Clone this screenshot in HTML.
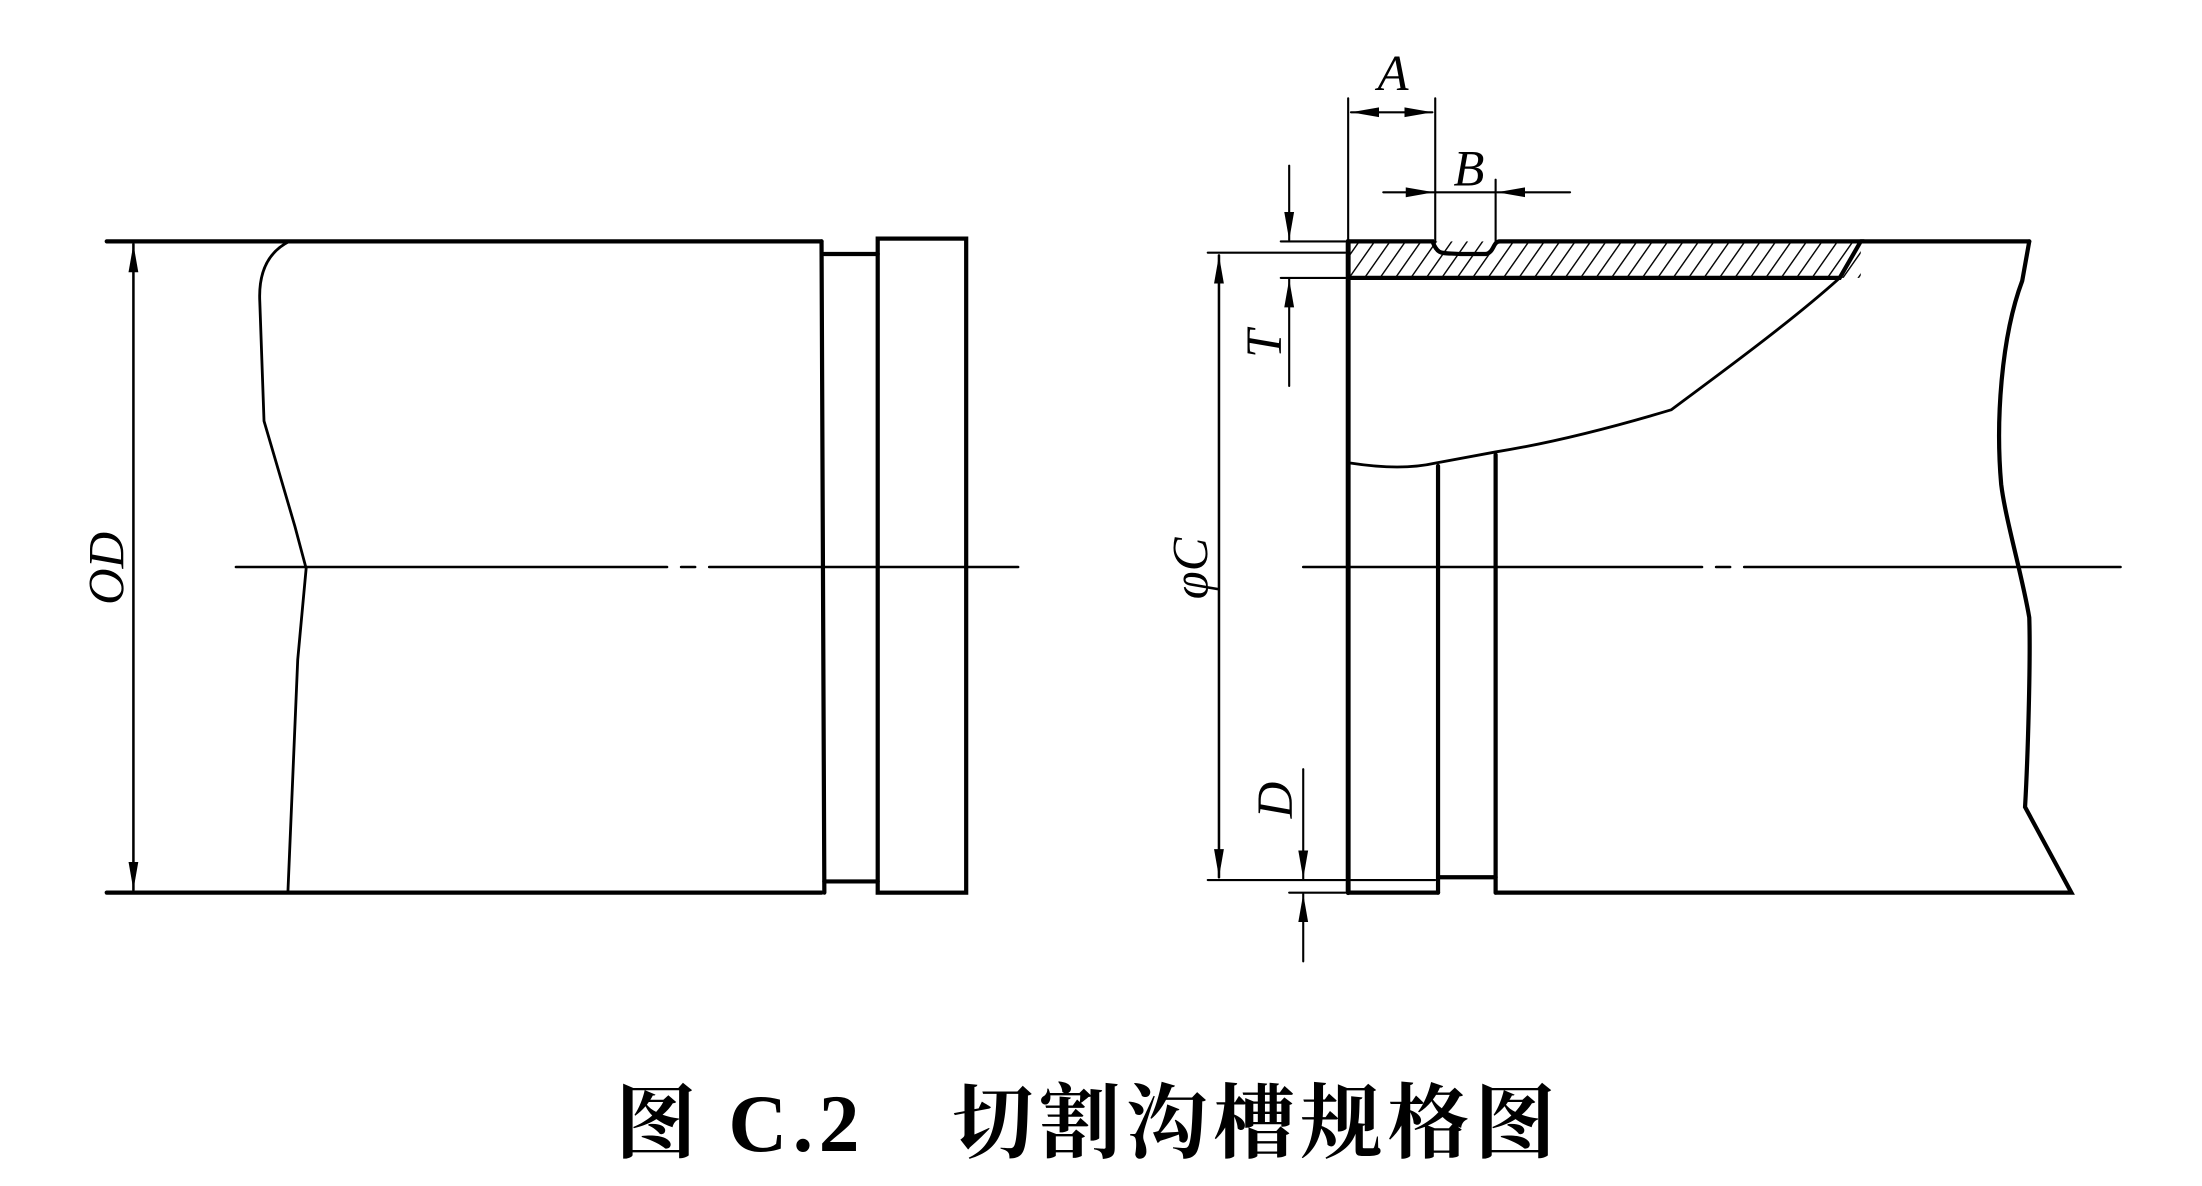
<!DOCTYPE html>
<html><head><meta charset="utf-8"><style>html,body{margin:0;padding:0;background:#fff;width:2202px;height:1186px;overflow:hidden}svg{display:block}</style></head><body>
<svg width="2202" height="1186" viewBox="0 0 1568 845" preserveAspectRatio="none" xmlns="http://www.w3.org/2000/svg">
<defs>
<marker id="ar" markerWidth="20" markerHeight="10" refX="20" refY="5" orient="auto-start-reverse" markerUnits="userSpaceOnUse"><path d="M0,1.5 L20,5 L0,8.5 z" fill="#000"/></marker>
<pattern id="h" width="9" height="9" patternUnits="userSpaceOnUse" patternTransform="rotate(35)"><rect width="9" height="9" fill="#fff"/><line x1="0" y1="0" x2="0" y2="9" stroke="#000" stroke-width="2"/></pattern>
</defs>
<g fill="none" stroke="#000" stroke-linecap="round">
<line x1="76" y1="172" x2="585" y2="172" stroke-width="3"/>
<line x1="76" y1="636" x2="585" y2="636" stroke-width="3"/>
<line x1="95" y1="174" x2="95" y2="634" stroke-width="1.8" marker-start="url(#ar)" marker-end="url(#ar)"/>
<path d="M206,172 C190,180 184,195 185,215 L188,300 L210,375 L218,405 L212,470 L205,636" stroke-width="2"/>
<line x1="585" y1="172" x2="587" y2="636" stroke-width="3"/>
<line x1="587" y1="181" x2="625" y2="181" stroke-width="3"/>
<line x1="587" y1="628" x2="625" y2="628" stroke-width="3"/>
<rect x="625" y="170" width="63" height="466" stroke-width="3"/>
<path d="M168,404 H475 M485,404 H495 M505,404 H725" stroke-width="1.8"/>
<rect x="960" y="172" width="365" height="26" fill="url(#h)" stroke="none"/>
<path d="M1325,172 L1445,172" stroke-width="3"/>
<path d="M960,172 L1020,172 C1024,182 1026,180 1040,181 L1058,181 C1064,180 1063,172 1068,172 L1325,172 L1310,198 L960,198" stroke-width="3"/>
<path d="M1310,198 C1280,225 1240,255 1190,292 C1130,310 1090,318 1065,322 L1022,330 C1000,335 975,332 962,330" stroke-width="2"/>
<line x1="960" y1="172" x2="960" y2="636" stroke-width="3.5"/>
<line x1="1024" y1="332" x2="1024" y2="636" stroke-width="3"/>
<line x1="1065" y1="324" x2="1065" y2="636" stroke-width="3"/>
<path d="M960,636 H1024 M1024,625 H1065 M1065,636 H1475 L1442,575 C1444,540 1446,470 1445,440 C1440,410 1428,370 1425,345 C1421,300 1425,240 1440,200 L1445,172" stroke-width="3"/>
<line x1="962" y1="627" x2="1022" y2="627" stroke-width="1.5"/>
<path d="M928,404 H1212 M1222,404 H1232 M1242,404 H1510" stroke-width="1.8"/>
<path d="M860,180 H958 M860,627 H958" stroke-width="1.5"/>
<line x1="868" y1="182" x2="868" y2="625" stroke-width="1.8" marker-start="url(#ar)" marker-end="url(#ar)"/>
<path d="M960,70 V172 M1022,70 V172" stroke-width="1.5"/>
<line x1="962" y1="80" x2="1020" y2="80" stroke-width="1.5" marker-start="url(#ar)" marker-end="url(#ar)"/>
<path d="M1065,128 V172" stroke-width="1.5"/>
<line x1="985" y1="137" x2="1021" y2="137" stroke-width="1.5" marker-end="url(#ar)"/>
<line x1="1118" y1="137" x2="1066" y2="137" stroke-width="1.5" marker-end="url(#ar)"/>
<line x1="1022" y1="137" x2="1065" y2="137" stroke-width="1.5"/>
<path d="M912,172 H958 M912,198 H958" stroke-width="1.5"/>
<line x1="918" y1="118" x2="918" y2="171" stroke-width="1.5" marker-end="url(#ar)"/>
<line x1="918" y1="275" x2="918" y2="199" stroke-width="1.5" marker-end="url(#ar)"/>
<path d="M918,636 H958" stroke-width="1.5"/>
<line x1="928" y1="548" x2="928" y2="626" stroke-width="1.5" marker-end="url(#ar)"/>
<line x1="928" y1="685" x2="928" y2="637" stroke-width="1.5" marker-end="url(#ar)"/>
</g>
<g font-family="Liberation Serif, serif" font-style="italic" font-size="36" fill="#000">
<text transform="translate(88,405) rotate(-90)" text-anchor="middle">OD</text>
<text transform="translate(860,405) rotate(-90)" text-anchor="middle">φC</text>
<text transform="translate(912,245) rotate(-90)" text-anchor="middle">T</text>
<text transform="translate(920,570) rotate(-90)" text-anchor="middle">D</text>
<text x="992" y="64" text-anchor="middle">A</text>
<text x="1046" y="132" text-anchor="middle">B</text>
</g>
<text x="775" y="820" text-anchor="middle" font-family="Liberation Serif, 'Noto Serif CJK SC', serif" font-weight="bold" font-size="58" letter-spacing="4" fill="#000">图 C.2　切割沟槽规格图</text>
</svg>
</body></html>
